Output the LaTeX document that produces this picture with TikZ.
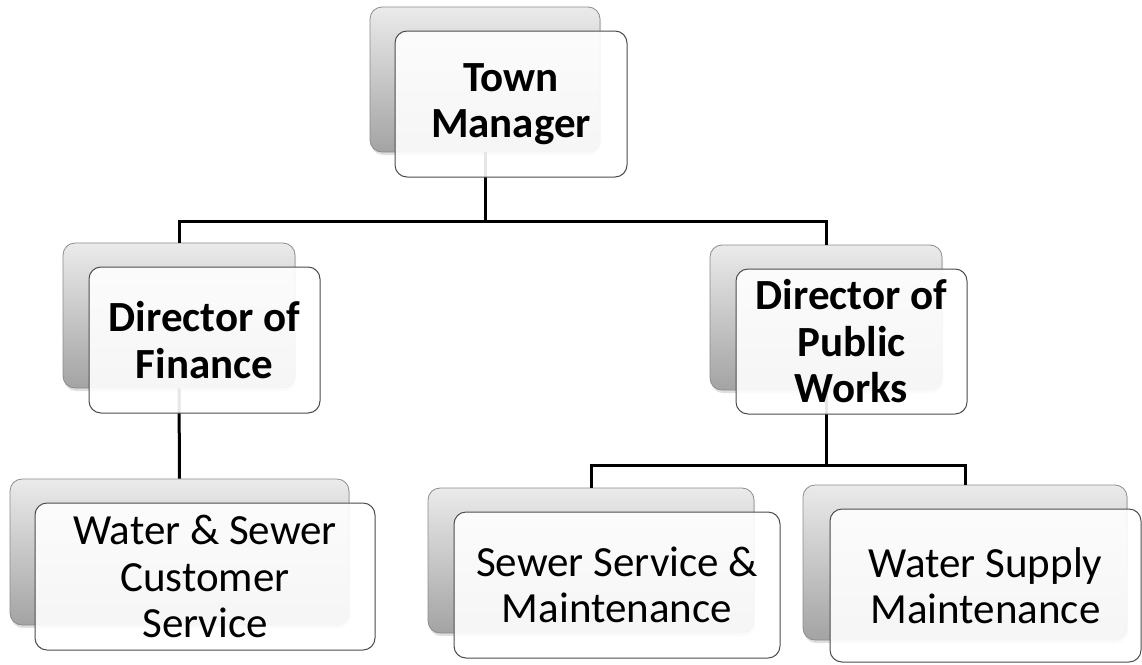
\documentclass[tikz,border=0pt]{standalone}
\usepackage{fontspec}
\setmainfont{Carlito}
\usepackage{tikz}
\usetikzlibrary{shadows}

\tikzset{
  cardback/.style={draw=black!45, line width=0.8pt, rounded corners=12pt, inner sep=0pt,
    top color=black!8, bottom color=black!36,
    drop shadow={shadow xshift=1pt, shadow yshift=-3pt, opacity=0.25}},
  card/.style={draw=black!70, line width=1pt, rounded corners=12pt, inner sep=0pt,
    fill=white, fill opacity=0.9, text opacity=1, align=center,
    font=\fontsize{43}{46.5}\selectfont},
  boss/.style={card, font=\fontsize{43}{46.5}\selectfont\bfseries},
  link/.style={line width=3pt, black}
}

\begin{document}
\begin{tikzpicture}[x=1pt, y=-1pt]
    % Background
    \useasboundingbox[fill=white] (0,0) rectangle (1142,664);

    % back cards
    \node[cardback, minimum width=230, minimum height=145] (tmB) at (485, 79.5) {};
    \node[cardback, minimum width=232, minimum height=145] (finB) at (179, 315.5) {};
    \node[cardback, minimum width=232, minimum height=145] (pwB) at (826, 317.5) {};
    \node[cardback, minimum width=339, minimum height=146] (wsB) at (179.5, 552) {};
    \node[cardback, minimum width=326, minimum height=145] (ssB) at (591, 560.5) {};
    \node[cardback, minimum width=324, minimum height=155] (wmB) at (965, 562.5) {};

    % lines between the levels
    \draw[link] (tmB.south) -- ++(0,69) -| (finB.north);
    \draw[link] (tmB.south) -- ++(0,69) -| (pwB.north);
    \draw[link] (finB.south) -- (wsB.north);
    \draw[link] (pwB.south) -- ++(0,75) -| (ssB.north);
    \draw[link] (pwB.south) -- ++(0,75) -| (wmB.north);

    % front cards
    \node[boss, minimum width=232, minimum height=146] (tm) at (511, 104) {Town\\Manager};
    \node[boss, minimum width=231, minimum height=146] (fin) at (204.5, 340) {Director of\\Finance};
    \node[boss, minimum width=231, minimum height=145] (pw) at (851.5, 341.5) {Director of\\Public\\Works};
    \node[card, minimum width=340, minimum height=147] (ws) at (205, 576.5) {Water \& Sewer\\Customer\\Service};
    \node[card, minimum width=326, minimum height=146] (ss) at (617, 585) {Sewer Service \&\\Maintenance};
    \node[card, minimum width=311, minimum height=153] (wm) at (985.5, 585.5) {Water Supply\\Maintenance};

  \end{tikzpicture}
\end{document}
